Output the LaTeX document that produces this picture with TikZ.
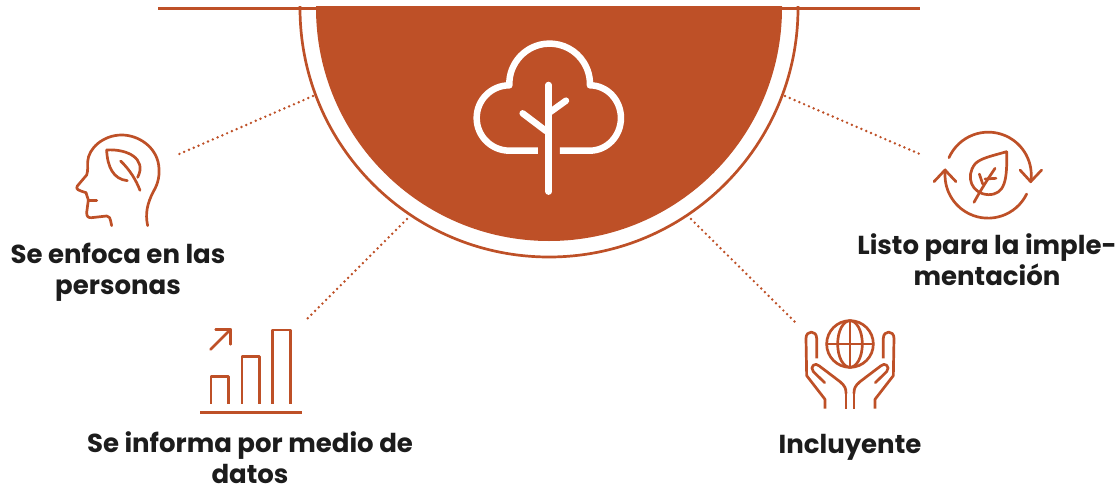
\documentclass[tikz,border=0pt]{standalone}
\usepackage{fontspec}
\setmainfont{Poppins}[BoldFont={Poppins Bold}]
\definecolor{rust}{HTML}{BE5027}
\definecolor{ink}{HTML}{1C1C1C}
\tikzset{
  iconline/.style = {draw=rust, line width=2.7pt, line cap=round, line join=round},
  treeline/.style = {draw=white, line width=6.5pt, line cap=round, line join=round},
  dotline/.style = {draw=rust, line width=2.7pt, line cap=round, dash pattern=on 0pt off 5.2pt},
  label/.style = {align=center, text=ink, font=\fontsize{26}{31}\selectfont\bfseries, inner sep=0pt}
}
\begin{document}
\begin{tikzpicture}[x=1pt, y=-1pt]
  \useasboundingbox (0,0) rectangle (1119,487);

  % half disc and its rim
  \begin{scope}
    \clip (0,7) rectangle (1119,487);
    \fill[rust] (549,8) circle [radius=233];
    \draw[iconline] (549,8) circle [radius=249];
  \end{scope}
  \draw[iconline, line cap=butt] (158,8.5) -- (920,8.5);

  % tree
  \begin{scope}[shift={(450,30)}, scale=0.3333]
    \draw[treeline] (296,165) -- (296,485);
    \draw[treeline] (218,250) -- (288,303);
    \draw[treeline] (348,212) -- (298,248);
    \draw[treeline, line cap=butt] (264,362) -- (178,362)
      arc [start angle=90, end angle=270, radius=98]
      arc [start angle=178, end angle=362, radius=121]
      arc [start angle=270, end angle=450, x radius=93, y radius=98] -- (330,362);
  \end{scope}

  % head
  \begin{scope}[shift={(60,120)}, scale=0.3333]
    \draw[iconline] (263,317) .. controls (255,280) and (262,250) .. (280,215)
      .. controls (295,190) and (300,165) .. (296,135)
      .. controls (288,80) and (235,45) .. (185,45)
      .. controls (130,45) and (85,85) .. (83,125)
      .. controls (82,140) and (85,150) .. (80,165)
      -- (52,198) .. controls (46,208) and (55,211) .. (78,218)
      -- (85,240) -- (80,278) .. controls (80,290) and (85,294) .. (95,293)
      -- (140,288) .. controls (148,287) and (150,292) .. (155,317);
    \draw[iconline] (85,242) -- (110,242);
    \draw[iconline] (140,90) .. controls (200,86) and (262,115) .. (233,172);
    \draw[iconline] (140,90) .. controls (142,140) and (160,178) .. (202,182);
    \draw[iconline] (182,123) .. controls (210,150) and (228,180) .. (240,211);
  \end{scope}

  % chart
  \begin{scope}[shift={(190,320)}, scale=0.3333]
    \foreach \bx/\btop in {63/170, 156/110, 248/30}
      \draw[iconline, line cap=butt] (\bx,252) -- (\bx,\btop) -- ({\bx+53},\btop) -- ({\bx+53},252);
    \draw[iconline, line cap=butt] (30,277) -- (335,277);
    \draw[iconline] (62,88) -- (122,28);
    \draw[iconline] (77,28) -- (122,28) -- (122,73);
  \end{scope}

  % globe in hands
  \begin{scope}[shift={(790,310)}, scale=0.3333]
    \draw[iconline] (180,102) circle [radius=70];
    \draw[iconline] (180,102) ellipse [x radius=37, y radius=70];
    \draw[iconline] (180,32) -- (180,172);
    \draw[iconline] (110,102) -- (250,102);
    \foreach \side in {1,-1} {
      \begin{scope}[shift={(180,0)}, xscale=\side]
        \draw[iconline, line cap=butt] (-75,296) -- (-75,268) -- (-130,197) -- (-132,85)
          .. controls (-132,60) and (-100,60) .. (-100,85) -- (-100,145);
        \draw[iconline] (-76,218) -- (-110,185)
          .. controls (-122,170) and (-105,155) .. (-92,168)
          -- (-30,215) .. controls (-15,228) and (-12,235) .. (-12,250);
        \draw[iconline, line cap=butt] (-12,250) -- (-12,296);
      \end{scope}
    }
  \end{scope}

  % leaf in cycle
  \begin{scope}[shift={(920,120)}, scale=0.3333]
    \draw[iconline] (87,113) arc [start angle=204, end angle=369, radius=129];
    \draw[iconline] (300,150) -- (332,185) -- (365,150);
    \draw[iconline] (320,222) arc [start angle=26, end angle=187, radius=129];
    \draw[iconline] (42,185) -- (75,150) -- (108,185);
    \draw[iconline] (260,95) .. controls (215,108) and (180,115) .. (165,132)
      .. controls (135,170) and (155,222) .. (205,224)
      .. controls (255,224) and (262,180) .. (260,95);
    \draw[iconline] (162,247) .. controls (185,205) and (205,175) .. (225,145);
    \draw[iconline] (178,162) -- (188,192);
    \draw[iconline] (195,177) -- (228,175);
  \end{scope}

  % labels
  \node[label] (enfoca) at (118,272) {Se enfoca en las\\personas};
  \node[label] (datos) at (250,458) {Se informa por medio de\\datos};
  \node[label] (incluyente) at (850,447) {Incluyente};
  \node[label] (listo) at (987,259.5) {Listo para la imple-\\mentación};

  % dotted connectors
  \coordinate (rimA) at (313,96);
  \coordinate (rimB) at (407,219);
  \coordinate (rimC) at (691,219);
  \coordinate (rimD) at (785,96);
  \coordinate (headEnd) at (177,155);
  \coordinate (chartEnd) at (305,321);
  \coordinate (globeEnd) at (795,322);
  \coordinate (cycleEnd) at (922,155);
  \draw[dotline] (rimA) -- (headEnd);
  \draw[dotline] (rimB) -- (chartEnd);
  \draw[dotline] (rimC) -- (globeEnd);
  \draw[dotline] (rimD) -- (cycleEnd);
\end{tikzpicture}
\end{document}
